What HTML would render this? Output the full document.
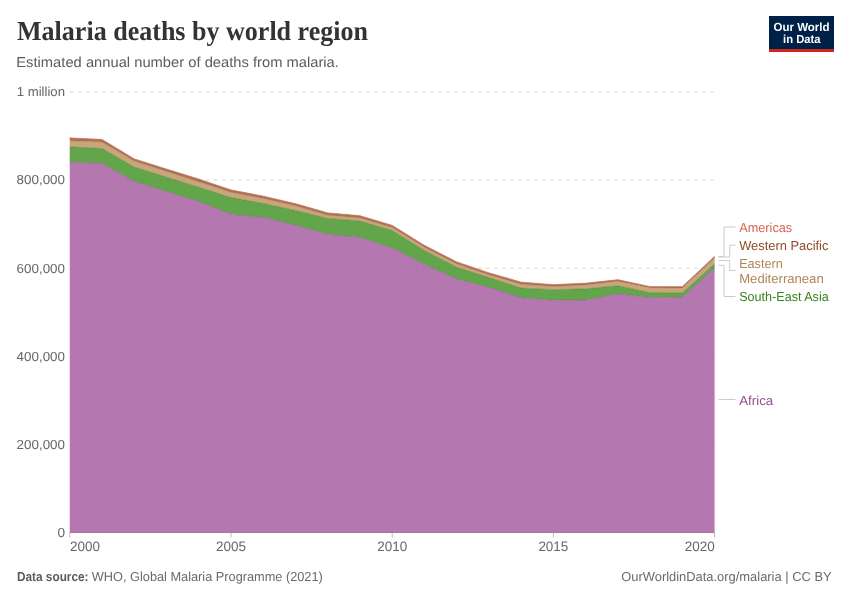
<!DOCTYPE html>
<html><head><meta charset="utf-8"><style>
html,body{margin:0;padding:0;background:#fff;}
body{width:850px;height:600px;overflow:hidden;position:relative;}
svg{position:absolute;left:0;top:0;will-change:transform;}
text{font-family:"Liberation Sans",sans-serif;text-rendering:geometricPrecision;}
</style></head><body>
<svg width="850" height="600" viewBox="0 0 850 600">
<rect width="850" height="600" fill="#fff"/>
<text x="17" y="40.4" font-family="Liberation Serif" font-weight="bold" font-size="27.5" fill="#333" style="font-family:'Liberation Serif',serif" textLength="351" lengthAdjust="spacingAndGlyphs">Malaria deaths by world region</text>
<text x="16.3" y="66.7" font-size="14.4" fill="#5b5b5b" textLength="322.6" lengthAdjust="spacingAndGlyphs">Estimated annual number of deaths from malaria.</text>
<g>
<line x1="69.75" x2="714.6" y1="92" y2="92" stroke="#d6d6d6" stroke-dasharray="4,4"/>
<line x1="69.75" x2="714.6" y1="180.1" y2="180.1" stroke="#d6d6d6" stroke-dasharray="4,4"/>
<line x1="69.75" x2="714.6" y1="268.2" y2="268.2" stroke="#d6d6d6" stroke-dasharray="4,4"/>
<line x1="69.75" x2="714.6" y1="356.3" y2="356.3" stroke="#d6d6d6" stroke-dasharray="4,4"/>
<line x1="69.75" x2="714.6" y1="444.4" y2="444.4" stroke="#d6d6d6" stroke-dasharray="4,4"/>

</g>
<g>
<path d="M69.75,162.3 L101.99,163.3 L134.24,181.6 L166.48,191.4 L198.72,201.4 L230.96,214.35 L263.21,217.3 L295.45,225.2 L327.69,234.35 L359.93,237.3 L392.18,248.1 L424.42,264.35 L456.66,278.9 L488.9,287.3 L521.14,297.7 L553.39,300.2 L585.63,299.9 L617.87,293.75 L650.12,297.5 L682.36,297.1 L714.6,267.9 L714.6,533 L682.36,533 L650.12,533 L617.87,533 L585.63,533 L553.39,533 L521.14,533 L488.9,533 L456.66,533 L424.42,533 L392.18,533 L359.93,533 L327.69,533 L295.45,533 L263.21,533 L230.96,533 L198.72,533 L166.48,533 L134.24,533 L101.99,533 L69.75,533 Z" fill="#a2559c" fill-opacity="0.8"/>
<path d="M69.75,146.8 L101.99,148.55 L134.24,167 L166.48,177.2 L198.72,187.2 L230.96,197.6 L263.21,203.4 L295.45,210.5 L327.69,218.4 L359.93,220.9 L392.18,230.5 L424.42,250.5 L456.66,267.2 L488.9,277.6 L521.14,288 L553.39,289.7 L585.63,288.8 L617.87,285.7 L650.12,292.7 L682.36,292.9 L714.6,263.75 L714.6,267.9 L682.36,297.1 L650.12,297.5 L617.87,293.75 L585.63,299.9 L553.39,300.2 L521.14,297.7 L488.9,287.3 L456.66,278.9 L424.42,264.35 L392.18,248.1 L359.93,237.3 L327.69,234.35 L295.45,225.2 L263.21,217.3 L230.96,214.35 L198.72,201.4 L166.48,191.4 L134.24,181.6 L101.99,163.3 L69.75,162.3 Z" fill="#3b8e1d" fill-opacity="0.8"/>
<path d="M69.75,140.8 L101.99,142.1 L134.24,161.1 L166.48,171.4 L198.72,181.8 L230.96,192.3 L263.21,198.5 L295.45,205.8 L327.69,215.2 L359.93,217.9 L392.18,227.4 L424.42,247.3 L456.66,263.9 L488.9,274.8 L521.14,284.35 L553.39,286.6 L585.63,284.9 L617.87,281.25 L650.12,287.7 L682.36,287.9 L714.6,257.9 L714.6,263.75 L682.36,292.9 L650.12,292.7 L617.87,285.7 L585.63,288.8 L553.39,289.7 L521.14,288 L488.9,277.6 L456.66,267.2 L424.42,250.5 L392.18,230.5 L359.93,220.9 L327.69,218.4 L295.45,210.5 L263.21,203.4 L230.96,197.6 L198.72,187.2 L166.48,177.2 L134.24,167 L101.99,148.55 L69.75,146.8 Z" fill="#bc8e5a" fill-opacity="0.8"/>
<path d="M69.75,138.25 L101.99,139.75 L134.24,159.15 L166.48,169.35 L198.72,179.35 L230.96,190.25 L263.21,196.45 L295.45,203.95 L327.69,213.15 L359.93,216.05 L392.18,225.65 L424.42,245.65 L456.66,262.15 L488.9,273.15 L521.14,282.45 L553.39,284.95 L585.63,283.55 L617.87,280.05 L650.12,286.95 L682.36,286.95 L714.6,256.7 L714.6,257.9 L682.36,287.9 L650.12,287.7 L617.87,281.25 L585.63,284.9 L553.39,286.6 L521.14,284.35 L488.9,274.8 L456.66,263.9 L424.42,247.3 L392.18,227.4 L359.93,217.9 L327.69,215.2 L295.45,205.8 L263.21,198.5 L230.96,192.3 L198.72,181.8 L166.48,171.4 L134.24,161.1 L101.99,142.1 L69.75,140.8 Z" fill="#9a5129" fill-opacity="0.8"/>
<path d="M69.75,137.8 L101.99,139.3 L134.24,158.7 L166.48,168.9 L198.72,178.9 L230.96,189.8 L263.21,196 L295.45,203.5 L327.69,212.7 L359.93,215.6 L392.18,225.2 L424.42,245.2 L456.66,261.7 L488.9,272.7 L521.14,282 L553.39,284.5 L585.63,283.1 L617.87,279.6 L650.12,286.5 L682.36,286.5 L714.6,256.25 L714.6,256.7 L682.36,286.95 L650.12,286.95 L617.87,280.05 L585.63,283.55 L553.39,284.95 L521.14,282.45 L488.9,273.15 L456.66,262.15 L424.42,245.65 L392.18,225.65 L359.93,216.05 L327.69,213.15 L295.45,203.95 L263.21,196.45 L230.96,190.25 L198.72,179.35 L166.48,169.35 L134.24,159.15 L101.99,139.75 L69.75,138.25 Z" fill="#e56e5a" fill-opacity="0.8"/>
<path d="M69.75,162.3 L101.99,163.3 L134.24,181.6 L166.48,191.4 L198.72,201.4 L230.96,214.35 L263.21,217.3 L295.45,225.2 L327.69,234.35 L359.93,237.3 L392.18,248.1 L424.42,264.35 L456.66,278.9 L488.9,287.3 L521.14,297.7 L553.39,300.2 L585.63,299.9 L617.87,293.75 L650.12,297.5 L682.36,297.1 L714.6,267.9" fill="none" stroke="#884783" stroke-opacity="0.7" stroke-width="0.5"/>
<path d="M69.75,146.8 L101.99,148.55 L134.24,167 L166.48,177.2 L198.72,187.2 L230.96,197.6 L263.21,203.4 L295.45,210.5 L327.69,218.4 L359.93,220.9 L392.18,230.5 L424.42,250.5 L456.66,267.2 L488.9,277.6 L521.14,288 L553.39,289.7 L585.63,288.8 L617.87,285.7 L650.12,292.7 L682.36,292.9 L714.6,263.75" fill="none" stroke="#317718" stroke-opacity="0.7" stroke-width="0.5"/>
<path d="M69.75,140.8 L101.99,142.1 L134.24,161.1 L166.48,171.4 L198.72,181.8 L230.96,192.3 L263.21,198.5 L295.45,205.8 L327.69,215.2 L359.93,217.9 L392.18,227.4 L424.42,247.3 L456.66,263.9 L488.9,274.8 L521.14,284.35 L553.39,286.6 L585.63,284.9 L617.87,281.25 L650.12,287.7 L682.36,287.9 L714.6,257.9" fill="none" stroke="#9d774b" stroke-opacity="0.7" stroke-width="0.5"/>
<path d="M69.75,138.25 L101.99,139.75 L134.24,159.15 L166.48,169.35 L198.72,179.35 L230.96,190.25 L263.21,196.45 L295.45,203.95 L327.69,213.15 L359.93,216.05 L392.18,225.65 L424.42,245.65 L456.66,262.15 L488.9,273.15 L521.14,282.45 L553.39,284.95 L585.63,283.55 L617.87,280.05 L650.12,286.95 L682.36,286.95 L714.6,256.7" fill="none" stroke="#814422" stroke-opacity="0.7" stroke-width="0.5"/>
<path d="M69.75,137.8 L101.99,139.3 L134.24,158.7 L166.48,168.9 L198.72,178.9 L230.96,189.8 L263.21,196 L295.45,203.5 L327.69,212.7 L359.93,215.6 L392.18,225.2 L424.42,245.2 L456.66,261.7 L488.9,272.7 L521.14,282 L553.39,284.5 L585.63,283.1 L617.87,279.6 L650.12,286.5 L682.36,286.5 L714.6,256.25" fill="none" stroke="#c05c4b" stroke-opacity="0.7" stroke-width="0.5"/>

</g>
<line x1="69.75" x2="714.6" y1="532.5" y2="532.5" stroke="#9d7a9b"/>
<g font-size="13" fill="#666">
<text x="65" y="96.3" text-anchor="end" textLength="48.3" lengthAdjust="spacingAndGlyphs">1 million</text>
<text x="65" y="184.4" text-anchor="end" textLength="48.4" lengthAdjust="spacingAndGlyphs">800,000</text>
<text x="65" y="272.5" text-anchor="end" textLength="48.4" lengthAdjust="spacingAndGlyphs">600,000</text>
<text x="65" y="360.6" text-anchor="end" textLength="48.4" lengthAdjust="spacingAndGlyphs">400,000</text>
<text x="65" y="448.7" text-anchor="end" textLength="48.4" lengthAdjust="spacingAndGlyphs">200,000</text>
<text x="65" y="536.8" text-anchor="end" textLength="7.6" lengthAdjust="spacingAndGlyphs">0</text>

<text x="70" y="550.6" font-size="13.7" text-anchor="start" textLength="30" lengthAdjust="spacingAndGlyphs">2000</text>
<line x1="69.75" x2="69.75" y1="533" y2="537.5" stroke="#bbb"/>
<text x="230.96" y="550.6" font-size="13.7" text-anchor="middle" textLength="30" lengthAdjust="spacingAndGlyphs">2005</text>
<line x1="230.96" x2="230.96" y1="533" y2="537.5" stroke="#bbb"/>
<text x="392.18" y="550.6" font-size="13.7" text-anchor="middle" textLength="30" lengthAdjust="spacingAndGlyphs">2010</text>
<line x1="392.18" x2="392.18" y1="533" y2="537.5" stroke="#bbb"/>
<text x="553.39" y="550.6" font-size="13.7" text-anchor="middle" textLength="30" lengthAdjust="spacingAndGlyphs">2015</text>
<line x1="553.39" x2="553.39" y1="533" y2="537.5" stroke="#bbb"/>
<text x="714.8" y="550.6" font-size="13.7" text-anchor="end" textLength="30" lengthAdjust="spacingAndGlyphs">2020</text>
<line x1="714.6" x2="714.6" y1="533" y2="537.5" stroke="#bbb"/>

</g>
<!-- legend connectors -->
<g stroke="#ccc" fill="none" stroke-width="1">
<path d="M718.5,256.5 H724 V227 H735.5"/>
<path d="M718.5,257 H729.7 V245.2 H735.5"/>
<path d="M718.5,260.5 H729.7 V270.5 H735.5"/>
<path d="M718.5,265.3 H724 V296.5 H735.5"/>
<path d="M718.5,399.5 H735.5"/>
</g>
<g font-size="13" lengthAdjust="spacingAndGlyphs">
<text x="739.2" y="231.7" fill="#d76654" textLength="53" lengthAdjust="spacingAndGlyphs">Americas</text>
<text x="739.2" y="249.9" fill="#8f4b26" textLength="89.2" lengthAdjust="spacingAndGlyphs">Western Pacific</text>
<text x="739.2" y="268.4" fill="#af8454" textLength="43.5" lengthAdjust="spacingAndGlyphs">Eastern</text>
<text x="739.2" y="282.6" fill="#af8454" textLength="84.5" lengthAdjust="spacingAndGlyphs">Mediterranean</text>
<text x="739.2" y="300.9" fill="#37841b" textLength="89.5" lengthAdjust="spacingAndGlyphs">South-East Asia</text>
<text x="739.2" y="404.8" fill="#974f91" textLength="34" lengthAdjust="spacingAndGlyphs">Africa</text>
</g>
<!-- logo -->
<rect x="769" y="16" width="65" height="36" fill="#002147"/>
<rect x="769" y="49" width="65" height="3" fill="#ce261e"/>
<g fill="#fff" font-size="11.8" font-weight="bold" text-anchor="middle">
<text x="801.5" y="30.8" textLength="56" lengthAdjust="spacingAndGlyphs">Our World</text>
<text x="801.8" y="42.8" textLength="37.5" lengthAdjust="spacingAndGlyphs">in Data</text>
</g>
<g font-size="13" fill="#5b5b5b">
<text x="17" y="581" font-weight="bold" textLength="71.5" lengthAdjust="spacingAndGlyphs">Data source:</text>
<text x="91.8" y="581" fill="#6a6a6a" textLength="231" lengthAdjust="spacingAndGlyphs">WHO, Global Malaria Programme (2021)</text>
<text x="831.6" y="581" fill="#6a6a6a" text-anchor="end" textLength="210.3" lengthAdjust="spacingAndGlyphs">OurWorldinData.org/malaria | CC BY</text>
</g>
</svg>
</body></html>
